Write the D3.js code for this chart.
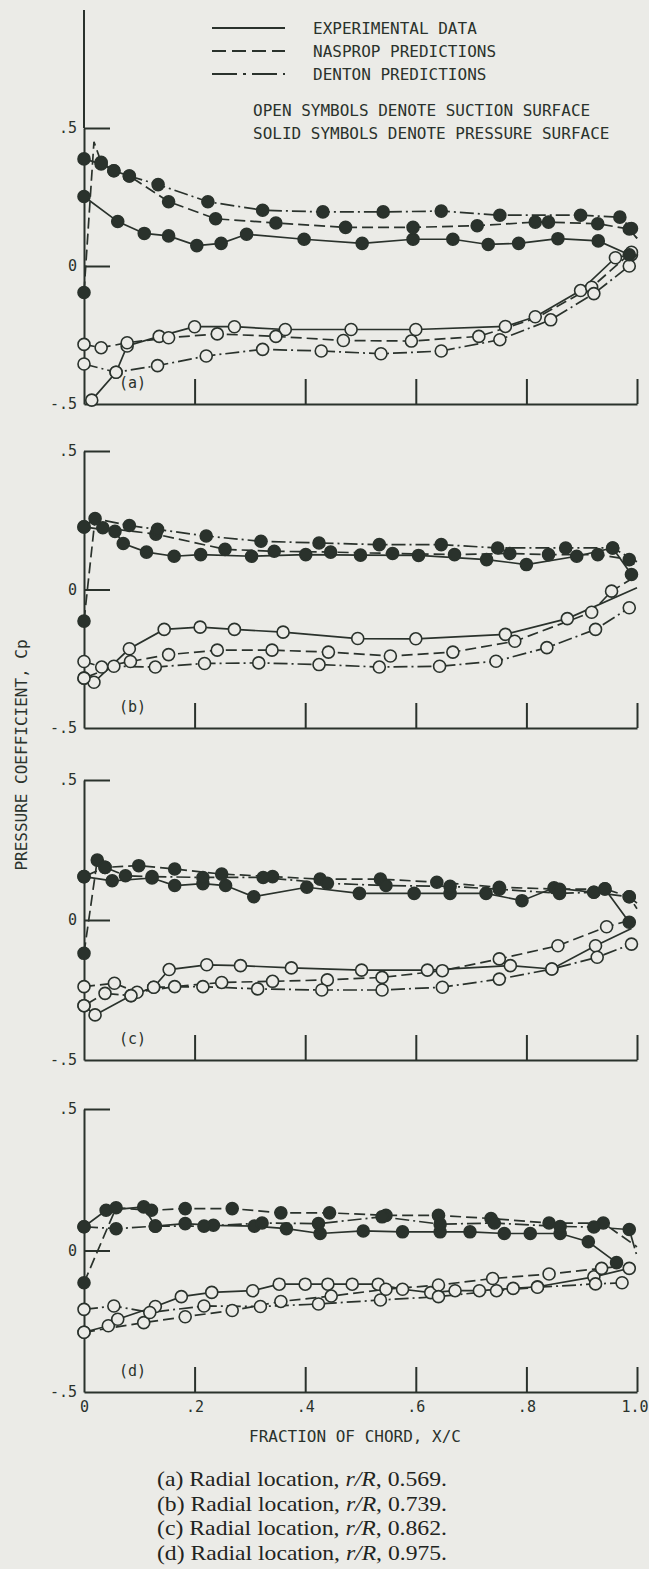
<!DOCTYPE html>
<html><head><meta charset="utf-8">
<script src="https://cdn.jsdelivr.net/npm/d3@7"></script>
<style>
html,body{margin:0;padding:0;background:#ebebe7;}
svg{display:block;}
</style></head><body>
<svg id="chart" width="649" height="1569"></svg>
<script>
// ---------- axis / text data ----------
const xTickValues = [0, 0.2, 0.4, 0.6, 0.8, 1.0];
const xTickLabels = ["0", ".2", ".4", ".6", ".8", "1.0"];
const yTickValues = [-0.5, 0, 0.5];
const yTickLabels = ["-.5", "0", ".5"];
const panelLabels = ["(a)", "(b)", "(c)", "(d)"];
const radialLocations = ["0.569", "0.739", "0.862", "0.975"];
const legendLabels = ["EXPERIMENTAL DATA", "NASPROP PREDICTIONS", "DENTON PREDICTIONS"];
const noteLabels = ["OPEN SYMBOLS DENOTE SUCTION SURFACE", "SOLID SYMBOLS DENOTE PRESSURE SURFACE"];

// ---------- series data: [x/c, Cp, (0 = no symbol)] ----------
// panel (a) r/R 0.569
const a_exp_p = [[0,0.252],[0.061,0.161],[0.109,0.118],[0.153,0.109],[0.204,0.074],[0.248,0.082],[0.294,0.115],[0.398,0.097],[0.503,0.082],[0.595,0.097],[0.667,0.097],[0.731,0.078],[0.786,0.082],[0.857,0.099],[0.93,0.091],[0.986,0.041]];
const a_nas_p = [[0,-0.096],[0.018,0.45,0],[0.031,0.376],[0.054,0.345],[0.082,0.326],[0.153,0.233],[0.238,0.171],[0.347,0.156],[0.473,0.14],[0.595,0.14],[0.711,0.146],[0.816,0.159],[0.84,0.159],[0.929,0.153],[0.986,0.134],[1.0,0.1,0]];
const a_den_p = [[0,0.388],[0.031,0.37],[0.054,0.345],[0.082,0.326],[0.134,0.295],[0.224,0.233],[0.323,0.202],[0.432,0.196],[0.541,0.196],[0.646,0.199],[0.752,0.184],[0.898,0.184],[0.969,0.177],[0.99,0.136],[1.0,0.1,0]];
const a_exp_s = [[0.014,-0.486],[0.058,-0.385],[0.078,-0.29],[0.136,-0.255],[0.2,-0.22],[0.272,-0.22],[0.364,-0.23],[0.483,-0.23],[0.6,-0.23],[0.762,-0.219],[0.816,-0.184],[0.898,-0.089],[0.961,0.03],[0.99,0.041]];
const a_nas_s = [[0,-0.284],[0.031,-0.296],[0.078,-0.278],[0.153,-0.26],[0.241,-0.246],[0.347,-0.255],[0.469,-0.27],[0.592,-0.272],[0.714,-0.255],[0.816,-0.19,0],[0.918,-0.077],[0.99,0.05]];
const a_den_s = [[0,-0.355],[0.058,-0.385],[0.133,-0.361],[0.221,-0.326],[0.323,-0.302],[0.429,-0.308],[0.537,-0.318],[0.646,-0.308],[0.752,-0.267],[0.844,-0.195],[0.922,-0.1],[0.986,0.0]];
// panel (b) r/R 0.739
const b_exp_p = [[0,0.226],[0.056,0.21],[0.071,0.166],[0.113,0.135],[0.163,0.12],[0.211,0.126],[0.303,0.12],[0.401,0.126],[0.5,0.124],[0.605,0.123],[0.728,0.108],[0.8,0.09],[0.891,0.12],[0.956,0.15],[0.99,0.054]];
const b_nas_p = [[0,-0.114],[0.02,0.256,0],[0.034,0.223],[0.13,0.2],[0.255,0.145],[0.344,0.138],[0.446,0.135],[0.558,0.13],[0.67,0.126],[0.77,0.13],[0.84,0.126],[0.929,0.126],[0.986,0.108],[1.0,0.08,0]];
const b_den_p = [[0,0.226],[0.02,0.256],[0.082,0.231],[0.133,0.217],[0.221,0.193],[0.32,0.174],[0.425,0.168],[0.534,0.162],[0.646,0.162],[0.748,0.15],[0.871,0.15],[0.956,0.15],[1.0,0.1,0]];
const b_exp_s = [[0,-0.32],[0.018,-0.335],[0.082,-0.214],[0.145,-0.144],[0.21,-0.136],[0.272,-0.144],[0.36,-0.154],[0.495,-0.177],[0.6,-0.178],[0.762,-0.162],[0.874,-0.105],[1.0,0.006,0]];
const b_nas_s = [[0,-0.26],[0.032,-0.28],[0.084,-0.26],[0.153,-0.235],[0.241,-0.219],[0.34,-0.219],[0.442,-0.226],[0.554,-0.24],[0.667,-0.226],[0.779,-0.187],[0.918,-0.082],[0.954,-0.006],[1.0,0.05,0]];
const b_den_s = [[0,-0.32],[0.054,-0.277],[0.129,-0.28],[0.218,-0.267],[0.316,-0.265],[0.425,-0.271],[0.534,-0.28],[0.643,-0.277],[0.745,-0.259],[0.837,-0.21],[0.925,-0.144],[0.986,-0.066]];
// panel (c) r/R 0.862
const c_exp_p = [[0,0.155],[0.051,0.14],[0.123,0.15],[0.164,0.123],[0.215,0.13],[0.256,0.123],[0.307,0.083],[0.403,0.117],[0.498,0.095],[0.597,0.095],[0.662,0.095],[0.727,0.095],[0.792,0.069],[0.85,0.115],[0.922,0.099],[0.942,0.111],[0.986,-0.008]];
const c_nas_p = [[0,-0.119],[0.024,0.214],[0.038,0.188],[0.099,0.194],[0.164,0.182],[0.249,0.164],[0.341,0.155],[0.427,0.146],[0.536,0.146],[0.638,0.135],[0.751,0.117],[0.86,0.11],[0.942,0.111],[0.986,0.083],[1.0,0.04,0]];
const c_den_p = [[0,0.155],[0.038,0.188],[0.075,0.158],[0.123,0.155],[0.215,0.152],[0.324,0.152],[0.44,0.131],[0.546,0.123],[0.662,0.12],[0.751,0.11],[0.86,0.095],[0.922,0.099],[0.986,0.083],[1.0,0.06,0]];
const c_exp_s = [[0,-0.306],[0.02,-0.339],[0.085,-0.27],[0.126,-0.24],[0.154,-0.177],[0.222,-0.16],[0.283,-0.163],[0.375,-0.171],[0.502,-0.179],[0.621,-0.179],[0.771,-0.163],[0.846,-0.175],[0.925,-0.092],[0.99,-0.03,0]];
const c_nas_s = [[0,-0.238],[0.055,-0.226],[0.096,-0.258],[0.164,-0.238],[0.249,-0.223],[0.341,-0.219],[0.44,-0.214],[0.539,-0.205],[0.648,-0.181],[0.751,-0.139],[0.857,-0.092],[0.945,-0.024],[0.99,0.0,0]];
const c_den_s = [[0,-0.306],[0.038,-0.262],[0.085,-0.27],[0.126,-0.24],[0.215,-0.238],[0.314,-0.246],[0.43,-0.25],[0.539,-0.25],[0.648,-0.24],[0.751,-0.211],[0.846,-0.175],[0.928,-0.133],[0.99,-0.086]];
// panel (d) r/R 0.975
const d_exp_p = [[0,0.084],[0.04,0.142],[0.108,0.154],[0.129,0.086],[0.183,0.095],[0.234,0.089],[0.308,0.086],[0.366,0.077],[0.427,0.06],[0.505,0.069],[0.576,0.066],[0.644,0.066],[0.698,0.066],[0.76,0.06],[0.807,0.06],[0.861,0.06],[0.912,0.031],[0.963,-0.043]];
const d_nas_p = [[0,-0.114],[0.058,0.151],[0.122,0.142],[0.183,0.148],[0.268,0.148],[0.356,0.133],[0.444,0.133],[0.546,0.124],[0.641,0.124],[0.736,0.113],[0.841,0.097],[0.939,0.097],[1.0,0.013,0]];
const d_den_p = [[0,0.084],[0.058,0.077],[0.129,0.086],[0.217,0.086],[0.322,0.097],[0.424,0.095],[0.539,0.119],[0.644,0.093],[0.742,0.097],[0.861,0.085],[0.922,0.083],[0.986,0.074],[1.0,-0.02,0]];
const d_exp_s = [[0,-0.289],[0.044,-0.266],[0.061,-0.243],[0.129,-0.198],[0.176,-0.163],[0.231,-0.148],[0.305,-0.142],[0.353,-0.119],[0.4,-0.119],[0.441,-0.119],[0.485,-0.119],[0.532,-0.119],[0.576,-0.137],[0.627,-0.149],[0.671,-0.142],[0.715,-0.142],[0.776,-0.134],[0.82,-0.128],[0.922,-0.093],[0.986,-0.063]];
const d_nas_s = [[0,-0.289],[0.108,-0.255],[0.183,-0.234],[0.268,-0.212],[0.356,-0.18],[0.447,-0.161],[0.546,-0.137],[0.641,-0.122],[0.739,-0.099],[0.841,-0.083],[0.936,-0.063],[1.0,-0.05,0]];
const d_den_s = [[0,-0.208],[0.054,-0.196],[0.119,-0.219],[0.217,-0.196],[0.319,-0.198],[0.424,-0.189],[0.536,-0.175],[0.641,-0.163],[0.746,-0.142],[0.82,-0.13],[0.925,-0.118],[0.973,-0.114]];

// ---------- drawing ----------
const INK = "#2a322c", BG = "#ebebe7";
const MONO = "'DejaVu Sans Mono', 'Liberation Mono', monospace";
const styles = {
  exp: null,
  nas: "11,5",
  den: "14,4,2,4"
};
const panelData = [
  {exp_p:a_exp_p, nas_p:a_nas_p, den_p:a_den_p, exp_s:a_exp_s, nas_s:a_nas_s, den_s:a_den_s},
  {exp_p:b_exp_p, nas_p:b_nas_p, den_p:b_den_p, exp_s:b_exp_s, nas_s:b_nas_s, den_s:b_den_s},
  {exp_p:c_exp_p, nas_p:c_nas_p, den_p:c_den_p, exp_s:c_exp_s, nas_s:c_nas_s, den_s:c_den_s},
  {exp_p:d_exp_p, nas_p:d_nas_p, den_p:d_den_p, exp_s:d_exp_s, nas_s:d_nas_s, den_s:d_den_s}
];
const panelBox = [{top:128,bottom:404},{top:451,bottom:728},{top:780,bottom:1060},{top:1109,bottom:1392}];

const svg = d3.select("#chart");
svg.append("rect").attr("width",649).attr("height",1569).attr("fill",BG);

const x = d3.scaleLinear().domain([0,1]).range([84,637]);

panelData.forEach((pd, pi) => {
  const box = panelBox[pi];
  const y = d3.scaleLinear().domain([-0.5,0.5]).range([box.bottom, box.top]);
  const g = svg.append("g");

  // y axis
  const ya = g.append("g").attr("transform",`translate(${x(0)},0)`)
    .call(d3.axisLeft(y).tickValues(yTickValues)
      .tickFormat((d,i)=>yTickLabels[yTickValues.indexOf(d)])
      .tickSizeInner(-26).tickSizeOuter(0).tickPadding(7));
  ya.attr("color",INK).attr("font-family",MONO).attr("font-size",15);
  ya.selectAll("path.domain").attr("stroke-width",2);
  ya.selectAll(".tick line").attr("stroke-width",2);
  ya.selectAll(".tick").filter(d=>d===-0.5).select("line").remove();
  ya.selectAll(".tick text").attr("fill",INK);
  if (pi===0) {
    g.append("line").attr("x1",x(0)).attr("x2",x(0)).attr("y1",10).attr("y2",y(0.5))
      .attr("stroke",INK).attr("stroke-width",2);
  }

  // x axis
  const xa = g.append("g").attr("transform",`translate(0,${y(-0.5)})`)
    .call(d3.axisBottom(x).tickValues(xTickValues)
      .tickFormat((d,i)=> pi===3 ? xTickLabels[xTickValues.indexOf(d)] : "")
      .tickSizeInner(-25).tickSizeOuter(0).tickPadding(9));
  xa.attr("color",INK).attr("font-family",MONO).attr("font-size",15);
  xa.selectAll("path.domain").attr("stroke-width",2);
  xa.selectAll(".tick line").attr("stroke-width",2);
  xa.selectAll(".tick").filter(d=>d===0).select("line").remove();
  xa.selectAll(".tick text").attr("fill",INK);
  xa.selectAll(".tick").filter(d=>d===1).select("text")
    .attr("text-anchor","end").attr("x",11);

  // panel label
  g.append("text").attr("x",119).attr("y",y(-0.5)-16).text(panelLabels[pi])
    .attr("font-family",MONO).attr("font-size",15).attr("fill",INK);

  const line = d3.line().x(d=>x(d[0])).y(d=>y(d[1]));
  const keys = ["exp_s","nas_s","den_s","exp_p","nas_p","den_p"];
  keys.forEach(k => {
    const st = styles[k.split("_")[0]];
    g.append("path").datum(pd[k]).attr("d",line)
      .attr("fill","none").attr("stroke",INK).attr("stroke-width",1.7)
      .attr("stroke-dasharray",st);
  });
  keys.forEach(k => {
    const filled = k.endsWith("_p");
    g.selectAll(null).data(pd[k].filter(d=>d[2]!==0)).enter().append("circle")
      .attr("cx",d=>x(d[0])).attr("cy",d=>y(d[1])).attr("r",6)
      .attr("fill",filled?INK:BG).attr("stroke",INK).attr("stroke-width",1.6);
  });
});

// legend
const legendStyles = [styles.exp, "14,6", "25,6,3,6"];
legendLabels.forEach((lab,i)=>{
  const yy = 28 + i*23;
  svg.append("line").attr("x1",212).attr("x2",285).attr("y1",yy).attr("y2",yy)
    .attr("stroke",INK).attr("stroke-width",2).attr("stroke-dasharray",legendStyles[i]);
  svg.append("text").attr("x",313).attr("y",yy+6).text(lab)
    .attr("font-family",MONO).attr("font-size",16).attr("fill",INK);
});
noteLabels.forEach((lab,i)=>{
  svg.append("text").attr("x",253).attr("y",116+i*23).text(lab)
    .attr("font-family",MONO).attr("font-size",16).attr("fill",INK);
});

// axis titles
svg.append("text").attr("transform","translate(27,755) rotate(-90)")
  .attr("text-anchor","middle").text("PRESSURE COEFFICIENT, Cp")
  .attr("font-family",MONO).attr("font-size",16).attr("fill",INK);
svg.append("text").attr("x",355).attr("y",1442).attr("text-anchor","middle")
  .text("FRACTION OF CHORD, X/C")
  .attr("font-family",MONO).attr("font-size",16).attr("fill",INK);

// captions
const SERIF = "'Liberation Serif', 'DejaVu Serif', serif";
radialLocations.forEach((v,i)=>{
  const t = svg.append("text").attr("x",157).attr("y",1486+i*24.5)
    .attr("font-family",SERIF).attr("font-size",21).attr("fill","#1f2421")
    .attr("textLength",290).attr("lengthAdjust","spacingAndGlyphs");
  t.append("tspan").text(`(${"abcd"[i]}) Radial location, `);
  t.append("tspan").attr("font-style","italic").text("r/R");
  t.append("tspan").text(`, ${v}.`);
});
</script>
</body></html>
